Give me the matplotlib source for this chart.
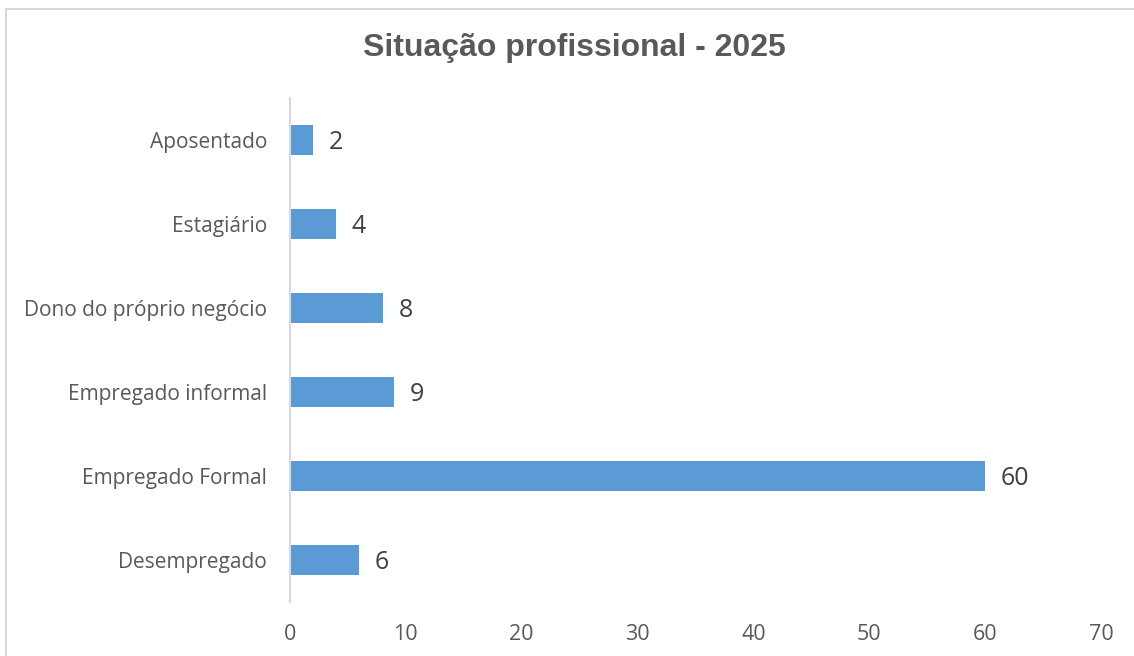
import matplotlib
matplotlib.use('Agg')
import matplotlib.pyplot as plt
from matplotlib.patches import Rectangle

categories = ['Desempregado', 'Empregado Formal', 'Empregado informal',
              'Dono do próprio negócio', 'Estagiário', 'Aposentado']
values = [6, 60, 9, 8, 4, 2]
x_ticks = [0, 10, 20, 30, 40, 50, 60, 70]

fig = plt.figure(figsize=(11.34, 6.56), dpi=100)
ax = fig.add_axes([0.2557, 0.0823, 0.9709 - 0.2557, 0.8506 - 0.0823])

# outer chart border
fig.add_artist(Rectangle((6 / 1134, -0.1), 1.2, 1 - 9 / 656 + 0.1, transform=fig.transFigure,
                         fill=False, edgecolor='#d9d9d9', linewidth=1.5))

ax.barh(range(len(categories)), values, height=0.36, color='#5b9bd5')
for i, v in enumerate(values):
    ax.text(v + 1.35, i - 0.03, str(v), va='center', ha='left', fontsize=18,
            color='#404040', family='Open Sans')

ax.set_xlim(0, 70)
ax.set_ylim(-0.5, len(categories) - 0.5)
ax.set_xticks(x_ticks)
ax.set_yticks(range(len(categories)))
ax.set_yticklabels(categories)
for lab in ax.get_xticklabels():
    lab.set_family('Open Sans')
    lab.set_fontsize(15.5)
    lab.set_color('#595959')
for lab in ax.get_yticklabels():
    lab.set_family('Open Sans')
    lab.set_fontsize(15)
    lab.set_color('#595959')
ax.tick_params(axis='both', length=0)
ax.tick_params(axis='x', pad=15.5)
ax.tick_params(axis='y', pad=16.5)

for s in ['top', 'right', 'bottom']:
    ax.spines[s].set_visible(False)
ax.spines['left'].set_color('#d9d9d9')
ax.spines['left'].set_linewidth(1.5)

fig.text(574 / 1134, 1 - 48 / 656, 'Situação profissional - 2025', ha='center', va='center',
         fontsize=23, fontweight='bold', color='#595959', family='Liberation Sans')

fig.savefig('out.png', dpi=100)
